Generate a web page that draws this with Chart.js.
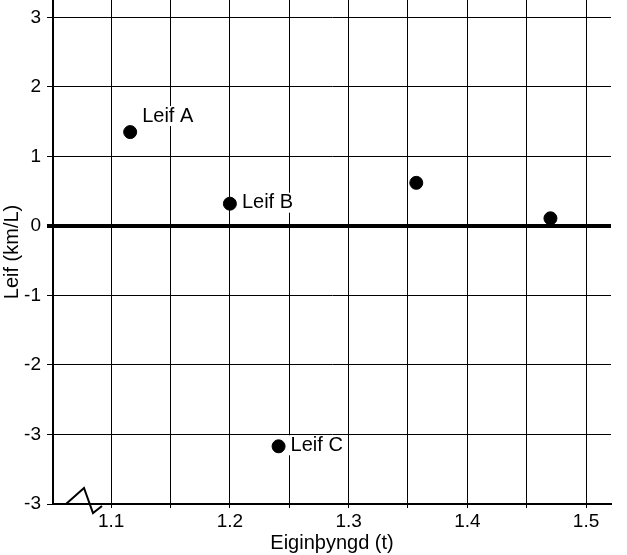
<!DOCTYPE html>
<html>
<head>
<meta charset="utf-8">
<script src="https://cdn.jsdelivr.net/npm/chart.js@4/dist/chart.umd.min.js"></script>
<style>
  body { margin: 0; background: #fff; }
  #wrap { width: 627px; height: 555px; }
</style>
</head>
<body>
<div id="wrap"><canvas id="chart"></canvas></div>
<script>
// weight (t) vs. fuel figure (km/L)
const weights = [1.116, 1.200, 1.241, 1.357, 1.470];
const fuel = [1.35, 0.32, -3.17, 0.62, 0.11];
const pointNames = ['Leif A', 'Leif B', 'Leif C', '', ''];

const xGrid = [1.1, 1.15, 1.2, 1.25, 1.3, 1.35, 1.4, 1.45, 1.5];
const xTickLabels = ['1.1', '', '1.2', '', '1.3', '', '1.4', '', '1.5'];
// bottom line is the broken axis, labelled -3 like in the original
const yGrid = [-4, -3, -2, -1, 0, 1, 2, 3];
const yTickLabels = ['-3', '-3', '-2', '-1', '0', '1', '2', '3'];

const FONT = 'Liberation Sans, Arial, sans-serif';

// little zig-zag on the x axis showing the break
const breakMark = {
    id: 'breakMark',
    afterDraw(chart) {
        const ctx = chart.ctx;
        const a = chart.chartArea;
        ctx.save();
        ctx.strokeStyle = '#000';
        ctx.lineWidth = 2;
        ctx.beginPath();
        ctx.moveTo(a.left + 13, a.bottom);
        ctx.lineTo(a.left + 31, a.bottom - 16);
        ctx.lineTo(a.left + 40, a.bottom + 9);
        ctx.lineTo(a.left + 49, a.bottom + 2);
        ctx.stroke();
        ctx.restore();
    }
};

// names next to the points, on a white patch
const pointLabels = {
    id: 'pointLabels',
    afterDatasetsDraw(chart) {
        const ctx = chart.ctx;
        const meta = chart.getDatasetMeta(0);
        ctx.save();
        ctx.font = '20px ' + FONT;
        ctx.textBaseline = 'middle';
        meta.data.forEach((pt, i) => {
            const name = pointNames[i];
            if (!name) return;
            const x = pt.x + 12;
            const y = i === 0 ? pt.y - 16 : pt.y - 1;
            const w = ctx.measureText(name).width;
            ctx.fillStyle = '#fff';
            ctx.fillRect(x - 2, y - 10, w + 4, 20);
            ctx.fillStyle = '#000';
            ctx.fillText(name, x, y);
        });
        ctx.restore();
    }
};

new Chart(document.getElementById('chart'), {
    type: 'scatter',
    data: {
        datasets: [{
            data: weights.map((w, i) => ({ x: w, y: fuel[i] })),
            backgroundColor: '#000',
            borderColor: '#000',
            pointRadius: 6.5,
            pointHoverRadius: 6.5
        }]
    },
    options: {
        responsive: true,
        maintainAspectRatio: false,
        animation: false,
        layout: {
            autoPadding: false,
            padding: { top: 0, right: 16, left: 0, bottom: 0 }
        },
        plugins: {
            legend: { display: false },
            tooltip: { enabled: false }
        },
        scales: {
            x: {
                type: 'linear',
                min: 1.051,
                max: 1.521,
                afterBuildTicks: scale => {
                    scale.ticks = xGrid.map(v => ({ value: v }));
                },
                afterFit: scale => {
                    scale.height = 51;
                    scale.paddingLeft = 0;
                    scale.paddingRight = 0;
                },
                ticks: {
                    callback: (v, i) => xTickLabels[i],
                    color: '#000',
                    font: { family: FONT, size: 19 },
                    maxRotation: 0,
                    autoSkip: false,
                    padding: 2
                },
                grid: {
                    color: '#000',
                    lineWidth: 1,
                    tickLength: 4
                },
                border: { color: '#000', width: 2 },
                title: {
                    display: true,
                    text: 'Eiginþyngd (t)',
                    color: '#000',
                    font: { family: FONT, size: 20 },
                    padding: { top: 0, bottom: 0 }
                }
            },
            y: {
                type: 'linear',
                min: -4,
                max: 3.25,
                afterBuildTicks: scale => {
                    scale.ticks = yGrid.map(v => ({ value: v }));
                },
                afterFit: scale => {
                    scale.width = 53;
                    scale.paddingTop = 0;
                    scale.paddingBottom = 0;
                },
                ticks: {
                    callback: (v, i) => yTickLabels[i],
                    color: '#000',
                    font: { family: FONT, size: 19 },
                    autoSkip: false,
                    padding: 6
                },
                grid: {
                    color: '#000',
                    lineWidth: ctx => (ctx.tick && ctx.tick.value === 0 ? 4 : 1),
                    tickLength: 6
                },
                border: { color: '#000', width: 2 },
                title: {
                    display: true,
                    text: 'Leif (km/L)',
                    color: '#000',
                    font: { family: FONT, size: 20 },
                    padding: { top: 0, bottom: 2 }
                }
            }
        }
    },
    plugins: [pointLabels, breakMark]
});
</script>
</body>
</html>
